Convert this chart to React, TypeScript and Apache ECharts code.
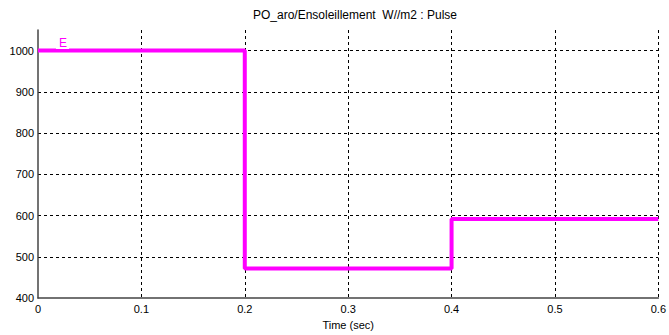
import React, { useEffect, useRef } from "react";
import * as echarts from "echarts";

const title = "PO_aro/Ensoleillement  W//m2 : Pulse";
const seriesName = "E";
const times = [0, 0.2, 0.4, 0.6];
const values = [1000, 472, 592, 592];
const xLabel = "Time (sec)";

export default function App() {
  const ref = useRef<HTMLDivElement>(null);
  useEffect(() => {
    const chart = echarts.init(ref.current!, undefined, { renderer: "svg" });
    const font = "'Liberation Sans', Arial, sans-serif";
    chart.setOption({
      animation: false,
      backgroundColor: "#fff",
      title: {
        text: title,
        left: 350,
        textAlign: "center",
        top: 4,
        textStyle: { fontFamily: font, fontSize: 12, fontWeight: "normal", color: "#000" },
      },
      legend: {
        data: [seriesName],
        left: 56,
        top: 36,
        icon: "none",
        itemWidth: 0,
        itemGap: 0,
        padding: [0, 2],
        backgroundColor: "#fff",
        textStyle: { color: "#ff00ff", fontFamily: font, fontSize: 12, padding: [0, 0, 0, -4] },
      },
      grid: { left: 38, right: 7, top: 30, bottom: 32 },
      xAxis: {
        type: "value",
        min: 0,
        max: 0.6,
        interval: 0.1,
        name: xLabel,
        nameLocation: "middle",
        nameGap: 19,
        nameTextStyle: { fontFamily: font, fontSize: 11, color: "#000" },
        axisLine: { show: true, onZero: false, lineStyle: { color: "#444", width: 1.5 } },
        axisTick: { show: false },
        axisLabel: { fontFamily: font, fontSize: 11, color: "#000", margin: 5 },
        splitLine: { show: true, showMinLine: false, lineStyle: { color: "#000", type: [3, 3], width: 1 } },
      },
      yAxis: {
        type: "value",
        min: 400,
        max: 1050,
        interval: 100,
        axisLine: { show: true, onZero: false, lineStyle: { color: "#444", width: 1.5 } },
        axisTick: { show: false },
        axisLabel: {
          fontFamily: font,
          fontSize: 11,
          color: "#000",
          margin: 4,
          showMaxLabel: false,
          formatter: (v: number) => (v % 100 === 0 ? String(v) : ""),
        },
        splitLine: {
          show: true,
          showMinLine: false,
          showMaxLine: false,
          lineStyle: { color: "#000", type: [3, 3], width: 1 },
        },
      },
      series: [
        {
          name: seriesName,
          type: "line",
          step: "end",
          data: times.map((t, i) => [t, values[i]]),
          showSymbol: false,
          lineStyle: { color: "#ff00ff", width: 4 },
          itemStyle: { color: "#ff00ff" },
        },
      ],
    });
    return () => chart.dispose();
  }, []);
  return <div ref={ref} style={{ width: 669, height: 335, position: "absolute", left: 0, top: 0 }} />;
}
